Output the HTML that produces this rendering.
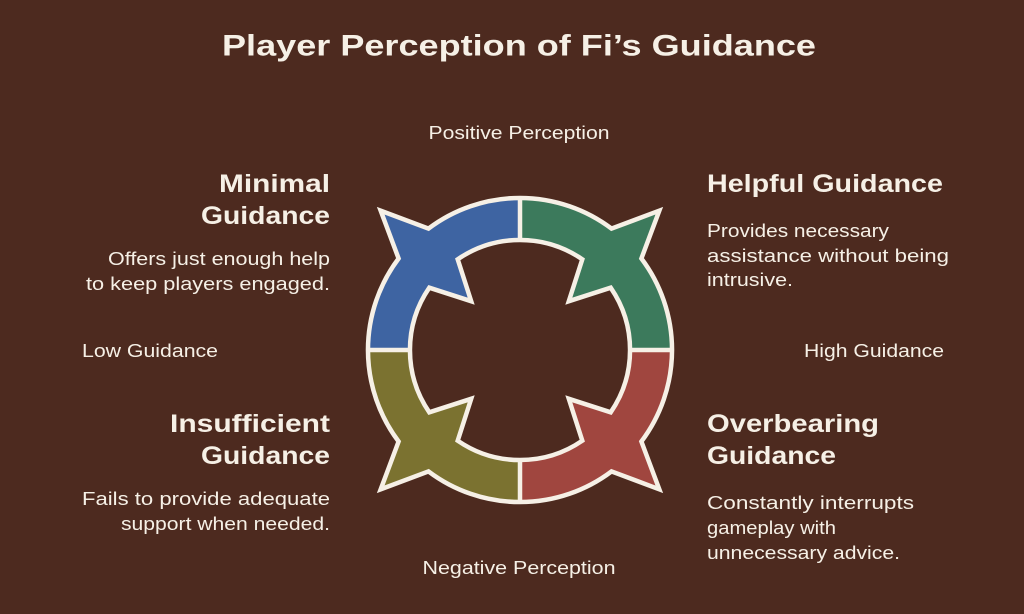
<!DOCTYPE html>
<html><head><meta charset="utf-8"><style>
html,body{margin:0;padding:0;background:#4d2a1f;}
svg{display:block}
text{font-family:"Liberation Sans",sans-serif;fill:#f6f0e6;dominant-baseline:central}
.h{font-weight:bold;font-size:25px}
.b{font-size:18px}
</style></head><body>
<svg id="s" width="1024" height="614" viewBox="0 0 1024 614">
<rect width="1024" height="614" fill="#4d2a1f"/>
<defs>
<clipPath id="q1"><rect x="520" y="0" width="504" height="350"/></clipPath>
<clipPath id="q2"><rect x="0" y="0" width="520" height="350"/></clipPath>
<clipPath id="q3"><rect x="0" y="350" width="520" height="264"/></clipPath>
<clipPath id="q4"><rect x="520" y="350" width="504" height="264"/></clipPath>
</defs>
<g id="ring"></g>
<g lengthAdjust="spacingAndGlyphs">
<text x="519" y="46" text-anchor="middle" style="font-weight:bold;font-size:30px" textLength="594" lengthAdjust="spacingAndGlyphs">Player Perception of Fi’s Guidance</text>
<text class="b" x="519" y="133" text-anchor="middle" textLength="181" lengthAdjust="spacingAndGlyphs">Positive Perception</text>
<text class="b" x="519" y="568" text-anchor="middle" textLength="193" lengthAdjust="spacingAndGlyphs">Negative Perception</text>
<text class="b" x="82" y="351" textLength="136" lengthAdjust="spacingAndGlyphs">Low Guidance</text>
<text class="b" x="804" y="351" textLength="140" lengthAdjust="spacingAndGlyphs">High Guidance</text>

<text class="h" x="330" y="184" text-anchor="end" textLength="111" lengthAdjust="spacingAndGlyphs">Minimal</text>
<text class="h" x="330" y="216" text-anchor="end" textLength="129" lengthAdjust="spacingAndGlyphs">Guidance</text>
<text class="b" x="330" y="259" text-anchor="end" textLength="222" lengthAdjust="spacingAndGlyphs">Offers just enough help</text>
<text class="b" x="330" y="284" text-anchor="end" textLength="244" lengthAdjust="spacingAndGlyphs">to keep players engaged.</text>

<text class="h" x="707" y="184" textLength="236" lengthAdjust="spacingAndGlyphs">Helpful Guidance</text>
<text class="b" x="707" y="231" textLength="182" lengthAdjust="spacingAndGlyphs">Provides necessary</text>
<text class="b" x="707" y="256" textLength="242" lengthAdjust="spacingAndGlyphs">assistance without being</text>
<text class="b" x="707" y="280" textLength="86" lengthAdjust="spacingAndGlyphs">intrusive.</text>

<text class="h" x="330" y="424" text-anchor="end" textLength="160" lengthAdjust="spacingAndGlyphs">Insufficient</text>
<text class="h" x="330" y="456" text-anchor="end" textLength="129" lengthAdjust="spacingAndGlyphs">Guidance</text>
<text class="b" x="330" y="499" text-anchor="end" textLength="248" lengthAdjust="spacingAndGlyphs">Fails to provide adequate</text>
<text class="b" x="330" y="524" text-anchor="end" textLength="209" lengthAdjust="spacingAndGlyphs">support when needed.</text>

<text class="h" x="707" y="424" textLength="172" lengthAdjust="spacingAndGlyphs">Overbearing</text>
<text class="h" x="707" y="456" textLength="129" lengthAdjust="spacingAndGlyphs">Guidance</text>
<text class="b" x="707" y="503" textLength="207" lengthAdjust="spacingAndGlyphs">Constantly interrupts</text>
<text class="b" x="707" y="528" textLength="129" lengthAdjust="spacingAndGlyphs">gameplay with</text>
<text class="b" x="707" y="553" textLength="193" lengthAdjust="spacingAndGlyphs">unnecessary advice.</text>
</g>
</svg>
<script>
(function(){
var cx=520,cy=350,Ro=152,Ri=110,To=197,Ti=69,dO=8,dI=10.5;
function P(r,a){a=a*Math.PI/180;return (cx+r*Math.cos(a)).toFixed(1)+","+(cy+r*Math.sin(a)).toFixed(1);}
function loop(R,T,d){
  var s="";var diag=[45,135,225,315];
  s+="M"+P(R,45+d);
  for(var i=0;i<4;i++){
    var nx=diag[(i+1)%4];
    s+=" A"+R+","+R+" 0 0 1 "+P(R,(i==3?405:nx)-d);
    s+=" L"+P(T,nx)+" L"+P(R,nx+d);
  }
  return s+"Z";
}
var d=loop(Ro,To,dO)+" "+loop(Ri,Ti,dI);
var cols=[["q1","#3c7a5c"],["q2","#3e64a2"],["q3","#7b7230"],["q4","#a0463f"]];
var h="";
cols.forEach(function(c){h+='<path d="'+d+'" fill="'+c[1]+'" fill-rule="evenodd" clip-path="url(#'+c[0]+')"/>';});
h+='<path d="'+d+'" fill="none" stroke="#f6f0e6" stroke-width="4.5" stroke-linejoin="miter"/>';
h+='<g stroke="#f6f0e6" stroke-width="4.5"><line x1="'+cx+'" y1="'+(cy-Ro)+'" x2="'+cx+'" y2="'+(cy-Ri)+'"/><line x1="'+cx+'" y1="'+(cy+Ri)+'" x2="'+cx+'" y2="'+(cy+Ro)+'"/><line x1="'+(cx-Ro)+'" y1="'+cy+'" x2="'+(cx-Ri)+'" y2="'+cy+'"/><line x1="'+(cx+Ri)+'" y1="'+cy+'" x2="'+(cx+Ro)+'" y2="'+cy+'"/></g>';
document.getElementById("ring").innerHTML=h;
})();
</script>
</body></html>
